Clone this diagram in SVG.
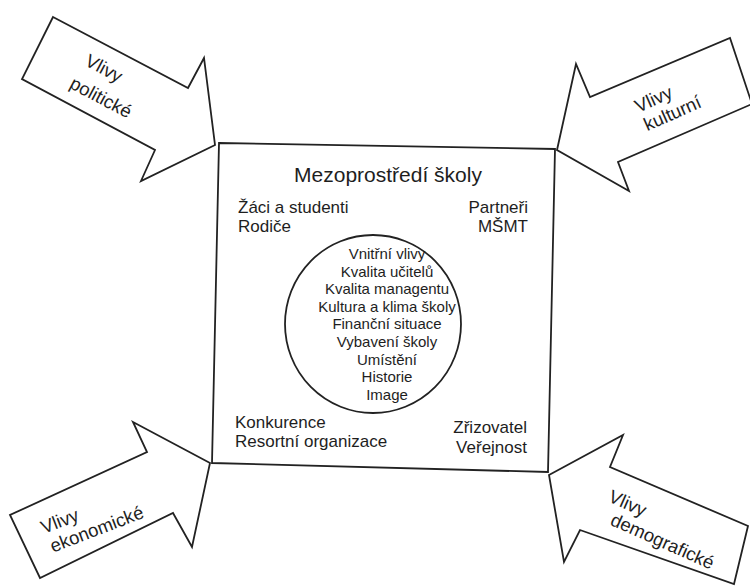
<svg xmlns="http://www.w3.org/2000/svg" width="750" height="588" viewBox="0 0 750 588">
<style>
.shape{fill:#fff;stroke:#222;stroke-width:1.8;stroke-linejoin:miter}
text{font-family:"Liberation Sans",Arial,sans-serif;fill:#1e1e1e}
.arr{font-size:18.5px;text-anchor:middle}
.t{font-size:21px;text-anchor:middle}
.c{font-size:17px}
.e{text-anchor:end}
.in{font-size:15px;text-anchor:middle}
</style>
<rect width="750" height="588" fill="#fff"/>
<g id="connectors">
<g id="arrow-politicke">
<polygon class="shape" points="53,17 188,88 204,58 215,145 141,181 155,150 22,79"/>
<text class="arr" transform="translate(101,74) rotate(28)">Vlivy</text>
<text class="arr" transform="translate(98,103) rotate(28)">politické</text>
</g>
<g id="arrow-kulturni">
<polygon class="shape" points="557,150 576,64 590,97 730,38 752,104 618,162 629,191"/>
<text class="arr" transform="translate(656,105) rotate(-24)">Vlivy</text>
<text class="arr" transform="translate(675,119) rotate(-24)">kulturní</text>
</g>
<g id="arrow-ekonomicke">
<polygon class="shape" points="210,463 133,422 147,452 10,515 40,578 173,513 192,547"/>
<text class="arr" transform="translate(62,527) rotate(-21)">Vlivy</text>
<text class="arr" transform="translate(99,535) rotate(-21)">ekonomické</text>
</g>
<g id="arrow-demograficke">
<polygon class="shape" points="549,475 623,435 610,467 748,526 734,584 580,530 564,562"/>
<text class="arr" transform="translate(625,509) rotate(24)">Vlivy</text>
<text class="arr" transform="translate(660,547) rotate(24)">demografické</text>
</g>
</g>
<g id="mezoprostredi">
<polygon class="shape" points="219,143 555,149 548,472 212,463"/>
<text class="t" x="388" y="182">Mezoprostředí školy</text>
<text class="c" x="238" y="213">Žáci a studenti</text>
<text class="c" x="238" y="232">Rodiče</text>
<text class="c e" x="528" y="213">Partneři</text>
<text class="c e" x="528" y="232">MŠMT</text>
<text class="c" x="235" y="428">Konkurence</text>
<text class="c" x="235" y="447">Resortní organizace</text>
<text class="c e" x="527" y="433">Zřizovatel</text>
<text class="c e" x="527" y="453">Veřejnost</text>
</g>
<g id="vnitrni">
<ellipse class="shape" cx="373" cy="324" rx="88" ry="89"/>
<text class="in" x="387" y="259">Vnitřní vlivy</text>
<text class="in" x="387" y="276.6">Kvalita učitelů</text>
<text class="in" x="387" y="294.2">Kvalita managentu</text>
<text class="in" x="387" y="311.8">Kultura a klima školy</text>
<text class="in" x="387" y="329.4">Finanční situace</text>
<text class="in" x="387" y="347">Vybavení školy</text>
<text class="in" x="387" y="364.6">Umístění</text>
<text class="in" x="387" y="382.2">Historie</text>
<text class="in" x="387" y="399.8">Image</text>
</g>
</svg>
